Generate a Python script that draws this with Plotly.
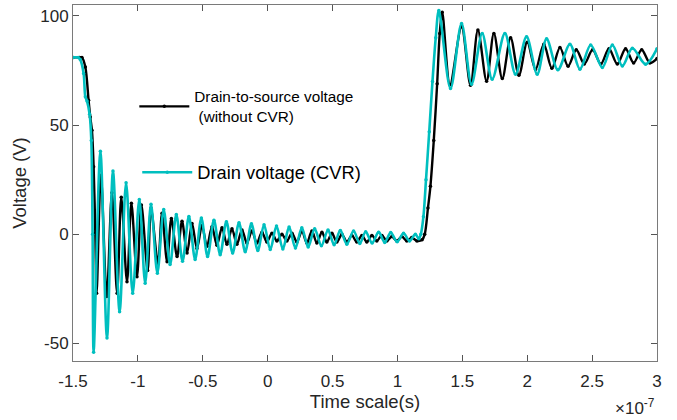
import plotly.graph_objects as go

# time in units of 1e-7 s, voltage in V
black_t = [-1.5, -1.45, -1.431, -1.405, -1.38, -1.367, -1.354, -1.341, -1.328, -1.318,
           -1.285, -1.24, -1.2, -1.16, -1.128, -1.084, -1.05, -1.007, -0.973, -0.925,
           -0.899, -0.845, -0.814, -0.775, -0.742, -0.698, -0.66, -0.621, -0.583, -0.545,
           -0.506, -0.468, -0.429, -0.391, -0.352, -0.314, -0.275, -0.237, -0.198, -0.16,
           -0.121, -0.083, -0.044, -0.006, 0.033, 0.071, 0.11, 0.148, 0.187, 0.225,
           0.264, 0.302, 0.341, 0.379, 0.418, 0.456, 0.495, 0.533, 0.572, 0.61,
           0.649, 0.687, 0.726, 0.764, 0.803, 0.841, 0.88, 0.918, 0.957, 0.995,
           1.034, 1.072, 1.11, 1.15, 1.19, 1.21, 1.235, 1.254, 1.28, 1.306,
           1.326, 1.345,
           1.405, 1.494, 1.563, 1.62, 1.687, 1.743, 1.808, 1.872, 1.936, 2.0,
           2.064, 2.128, 2.19, 2.252, 2.315, 2.378, 2.44, 2.504, 2.567, 2.63,
           2.694, 2.758, 2.82, 2.882, 2.945, 3.0]
black_v = [81, 81, 81, 76.6, 61.4, 53.7, 47.6, 30.9, 0.5, -27,
           27, -28.5, 19, -27, 17, -21.7, 14.2, -19.4, 13.4, -16.6,
           11.9, -13.3, 9.6, -12.5, 7.3, -10.2, 6, -8.5, 5, -6.5,
           4, -5.5, 3.5, -5, 3, -4.5, 2.5, -4.5, 2, -4,
           1.5, -4, 1, -3.5, 0.5, -3, 0, -3, 0.5, -3.5,
           1.5, -4, 1.5, -4, 1, -3.5, 0.5, -3.5, 0, -3.5,
           -0.5, -3.5, -0.5, -3.5, -0.5, -3, -0.5, -3, -1, -3,
           -1, -3, -1.5, -3, -2.5, 0, 12, 22, 43, 69,
           92, 101.7,
           68.5, 95, 68.2, 93.5, 70.1, 92, 71.3, 90, 72.8, 88,
           75.5, 87, 76, 85.5, 77, 84.5, 78, 84.5, 78, 85,
           78, 85, 78.5, 84.5, 78.5, 80.5]

cyan_t = [-1.5, -1.46, -1.444, -1.418, -1.405, -1.392, -1.372, -1.359, -1.349, -1.341,
          -1.289, -1.238, -1.192, -1.141, -1.091, -1.04, -0.989, -0.944, -0.899, -0.85,
          -0.801, -0.752, -0.704, -0.656, -0.607, -0.559, -0.511, -0.463, -0.414, -0.366,
          -0.318, -0.27, -0.221, -0.173, -0.125, -0.076, -0.028, 0.02, 0.068, 0.117,
          0.165, 0.214, 0.263, 0.312, 0.362, 0.414, 0.465, 0.512, 0.56, 0.61,
          0.662, 0.71, 0.755, 0.805, 0.855, 0.902, 0.948, 0.998, 1.047, 1.093,
          1.138, 1.165, 1.18, 1.2, 1.22, 1.245, 1.27, 1.295, 1.319,
          1.409, 1.494, 1.571, 1.653, 1.73, 1.828, 1.91, 1.995, 2.077, 2.149,
          2.236, 2.329, 2.406, 2.489, 2.579, 2.656, 2.733, 2.81, 2.912, 3.0]
cyan_v = [81, 81, 80, 73.6, 63, 61, 55, 43, 0, -54,
          38, -47.5, 29, -35.4, 23.6, -27, 16, -22.4, 13.8, -17.8,
          11.4, -13.8, 9.1, -12.3, 8.2, -11.5, 7.5, -10.2, 6.5, -9.3,
          5.8, -8.6, 5.3, -8, 4.8, -7.4, 4.4, -7, 3.8, -6.7,
          3.3, -6.3, 3, -5.8, 2.5, -5.2, 2, -4.8, 1.8, -4.5,
          1.5, -4.2, 1.2, -4, 1, -3.7, 0.8, -3.4, 0.5, -3,
          0, -2, 0, 8, 25, 47, 70, 90, 102.5,
          66.8, 96.5, 68.7, 92, 71, 92, 73.3, 90.5, 73.3, 89.5,
          75.3, 87, 75.6, 86.7, 76.4, 86.7, 77.1, 85.2, 77.9, 85]

series_names = ["Drain-to-source voltage<br> (without CVR)", "Drain voltage (CVR)"]
x_ticks = [-1.5, -1, -0.5, 0, 0.5, 1, 1.5, 2, 2.5, 3]
x_ticklabels = ["-1.5", "-1", "-0.5", "0", "0.5", "1", "1.5", "2", "2.5", "3"]
y_ticks = [-50, 0, 50, 100]
y_ticklabels = ["-50", "0", "50", "100"]

BLACK = "#000000"
CYAN = "#00BFBF"
FONT = "Liberation Sans, Arial, sans-serif"

fig = go.Figure()
fig.add_trace(go.Scatter(
    x=black_t, y=black_v, name=series_names[0], mode="lines+markers", showlegend=True,
    line=dict(color=BLACK, width=2.4, shape="spline", smoothing=0.9),
    marker=dict(color=BLACK, size=3.5), legend="legend"))
fig.add_trace(go.Scatter(
    x=cyan_t, y=cyan_v, name=series_names[1], mode="lines+markers", showlegend=True,
    line=dict(color=CYAN, width=2.6, shape="spline", smoothing=0.9),
    marker=dict(color=CYAN, size=3.5), legend="legend2"))

axis_common = dict(
    showgrid=False, zeroline=False, showline=True, linecolor="#7a7a7a", linewidth=1,
    mirror="ticks", ticks="inside", ticklen=6, tickcolor="#555555",
    tickfont=dict(family=FONT, size=17, color="#262626"),
)

fig.update_layout(
    width=677, height=420,
    showlegend=True,
    margin=dict(l=73, r=20, t=5, b=59),
    paper_bgcolor="white", plot_bgcolor="white",
    font=dict(family=FONT, color="#262626"),
    xaxis=dict(range=[-1.5, 3], tickvals=x_ticks, ticktext=x_ticklabels,
               ticklabelstandoff=5,
               title=dict(text="Time scale(s)", font=dict(family=FONT, size=18.5, color="#262626"),
                          standoff=3),
               **axis_common),
    yaxis=dict(range=[-58, 105], tickvals=y_ticks, ticktext=y_ticklabels,
               title=dict(text="Voltage (V)", font=dict(family=FONT, size=18.5, color="#262626"),
                          standoff=8),
               **axis_common),
    legend=dict(x=0.105, y=0.715, xanchor="left", yanchor="middle",
                bgcolor="rgba(0,0,0,0)", borderwidth=0, itemwidth=50,
                font=dict(family=FONT, size=15.3, color="#000000")),
    legend2=dict(x=0.11, y=0.53, xanchor="left", yanchor="middle",
                 bgcolor="rgba(0,0,0,0)", borderwidth=0, itemwidth=50,
                 font=dict(family=FONT, size=18.3, color="#000000")),
    annotations=[dict(text="\u00d710<sup>-7</sup>", xref="paper", yref="paper",
                      x=1.0, y=-0.13, xanchor="right", yanchor="middle", showarrow=False,
                      font=dict(family=FONT, size=17, color="#262626"))],
)

fig.write_html("out.html", config={"displayModeBar": False},
               post_script="document.body.style.margin='0';")
